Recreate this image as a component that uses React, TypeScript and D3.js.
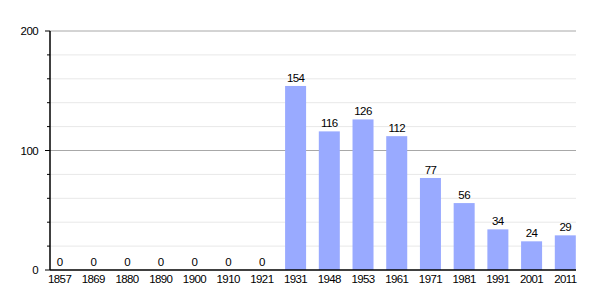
import React from "react";
import * as d3 from "d3";

const years = ["1857","1869","1880","1890","1900","1910","1921","1931","1948","1953","1961","1971","1981","1991","2001","2011"];
const population = [0,0,0,0,0,0,0,154,116,126,112,77,56,34,24,29];
const majorTicks = [0, 100, 200];
const minorTicks = [20, 40, 60, 80, 120, 140, 160, 180];

const W = 605, H = 300;
const left = 50, right = 576, top = 31, bottom = 270;

export default function App() {
  const y = d3.scaleLinear().domain([0, 200]).range([bottom, top]);
  const x = d3.scalePoint<string>().domain(years).range([59.6, 565.3]);
  const bw = 21;
  const font = "'Liberation Sans', Arial, Helvetica, sans-serif";
  const fs = 11.5, ls = -0.6;
  return (
    <svg width={W} height={H} style={{ position: "absolute", left: 0, top: 0, background: "#fff" }} fontFamily={font}>
      {minorTicks.map(t => (
        <g key={"m" + t}>
          <line x1={left} x2={right} y1={y(t)} y2={y(t)} stroke="#e8e8e8" strokeWidth={1} />
          <line x1={left - 3} x2={left} y1={y(t)} y2={y(t)} stroke="#000" strokeWidth={1} />
        </g>
      ))}
      {majorTicks.map(t => (
        <g key={"M" + t}>
          {t > 0 && <line x1={left} x2={right} y1={y(t)} y2={y(t)} stroke="#a8a8a8" strokeWidth={1} />}
          <line x1={left - 5} x2={left} y1={y(t)} y2={y(t)} stroke="#000" strokeWidth={1} />
          <text x={38} y={y(t)} dy="0.35em" textAnchor="end" fontSize={fs} letterSpacing={ls} fill="#000">{t}</text>
        </g>
      ))}
      {years.map((yr, i) => {
        const v = population[i];
        const cx = x(yr)!;
        return (
          <g key={yr}>
            {v > 0 && <rect x={cx - bw / 2} y={y(v)} width={bw} height={bottom - y(v)} fill="#99aaff" />}
            <text x={cx} y={y(v) - 4} textAnchor="middle" fontSize={fs} letterSpacing={ls} fill="#000">{v}</text>
            <text x={cx} y={283} textAnchor="middle" fontSize={fs} letterSpacing={ls} fill="#000">{yr}</text>
          </g>
        );
      })}
      <line x1={left} x2={left} y1={top} y2={bottom} stroke="#000" strokeWidth={1.5} />
      <line x1={left} x2={right} y1={bottom} y2={bottom} stroke="#000" strokeWidth={1.5} />
    </svg>
  );
}
